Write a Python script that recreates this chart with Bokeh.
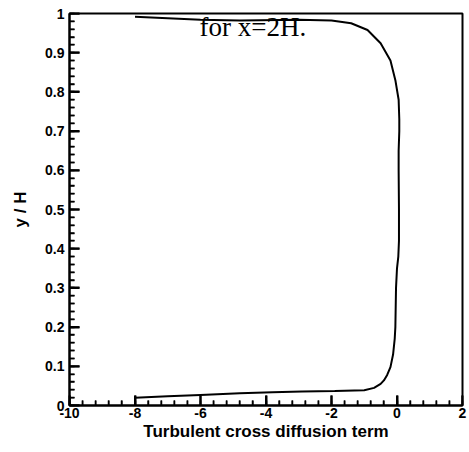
import math
from bokeh.plotting import figure
from bokeh.models import Range1d, SingleIntervalTicker, CustomJSTickFormatter
from bokeh.core.properties import value
from bokeh.embed import file_html
from bokeh.resources import INLINE

# Curve: turbulent cross diffusion term vs y/H (traced from bottom to top)
term = [-8.0, -7.0, -6.0, -4.8, -3.8, -2.9, -1.9, -1.0, -0.7, -0.5, -0.4, -0.3,
        -0.2, -0.12, -0.07, -0.05, -0.03, 0.0, 0.04, 0.06, 0.06, 0.05, 0.05,
        0.07, 0.07, 0.05, -0.05, -0.2, -0.5, -0.9, -1.4, -2.0, -3.0, -4.8,
        -6.0, -7.0, -8.0]
y_over_h = [0.020, 0.0235, 0.027, 0.031, 0.034, 0.0355, 0.037, 0.039, 0.045,
            0.055, 0.064, 0.078, 0.098, 0.13, 0.17, 0.20, 0.30, 0.35, 0.38,
            0.42, 0.50, 0.60, 0.65, 0.70, 0.73, 0.78, 0.83, 0.88, 0.924,
            0.958, 0.975, 0.982, 0.984, 0.982, 0.984, 0.988, 0.992]

# Axis tick values
x_major = [-10, -8, -6, -4, -2, 0, 2]
y_major = [0.0, 0.1, 0.2, 0.3, 0.4, 0.5, 0.6, 0.7, 0.8, 0.9, 1.0]
x_minor = [a + (b - a) * k / 5 for a, b in zip(x_major[:-1], x_major[1:]) for k in range(1, 5)]
y_minor = [a + (b - a) * k / 5 for a, b in zip(y_major[:-1], y_major[1:]) for k in range(1, 5)]

title_text = ["for x=2H."]
title_x = [-4.4]
title_y = [0.9655]
x_label = "Turbulent cross diffusion term"
y_label = "y / H"

p = figure(width=469, height=452, output_backend="svg", toolbar_location=None,
           x_range=Range1d(-10, 2), y_range=Range1d(0, 1),
           min_border_left=69, min_border_right=7, min_border_top=13,
           min_border_bottom=47)

# inward tick marks drawn as rays anchored on the axes
p.ray(x=x_major, y=[0] * len(x_major), length=10, length_units="screen",
      angle=math.pi / 2, line_color="black", line_width=2)
p.ray(x=x_minor, y=[0] * len(x_minor), length=5, length_units="screen",
      angle=math.pi / 2, line_color="black", line_width=1.5)
p.ray(x=[-10] * len(y_major), y=y_major, length=10, length_units="screen",
      angle=0, line_color="black", line_width=2)
p.ray(x=[-10] * len(y_minor), y=y_minor, length=5, length_units="screen",
      angle=0, line_color="black", line_width=1.5)

p.line(term, y_over_h, line_color="black", line_width=2)
p.text(x=title_x, y=title_y, text=title_text, text_align="center",
       text_baseline="alphabetic", text_font=value("Liberation Serif"),
       text_font_size="27px", text_color="black")

p.xgrid.visible = False
p.ygrid.visible = False
p.outline_line_color = "black"
p.outline_line_width = 2

p.xaxis.ticker = SingleIntervalTicker(interval=2, num_minor_ticks=5)
p.yaxis.ticker = SingleIntervalTicker(interval=0.1, num_minor_ticks=5)
p.xaxis.formatter = CustomJSTickFormatter(code="return Math.round(tick).toString();")
p.yaxis.formatter = CustomJSTickFormatter(code="return (Math.round(tick*10)/10).toString();")

font = "Liberation Sans"
for axes in (p.xaxis, p.yaxis):
    axes.axis_line_width = 2
    axes.axis_line_color = "black"
    axes.major_tick_in = 10
    axes.major_tick_out = 0
    axes.minor_tick_in = 5
    axes.minor_tick_out = 0
    axes.major_tick_line_width = 2
    axes.minor_tick_line_width = 1.5
    axes.major_tick_line_color = "black"
    axes.minor_tick_line_color = "black"
    axes.major_label_text_font = font
    axes.major_label_text_font_style = "bold"
    axes.major_label_text_font_size = "14px"
    axes.major_label_text_color = "black"
    axes.axis_label_text_font = font
    axes.axis_label_text_font_style = "bold"
    axes.axis_label_text_font_size = "17px"
    axes.axis_label_text_color = "black"

p.xaxis.axis_label = x_label
p.yaxis.axis_label = y_label
p.xaxis.major_label_standoff = 2
p.xaxis.axis_label_standoff = 1
p.yaxis.major_label_standoff = 5
p.yaxis.axis_label_standoff = 12

open("out.html", "w").write(file_html(p, INLINE))
